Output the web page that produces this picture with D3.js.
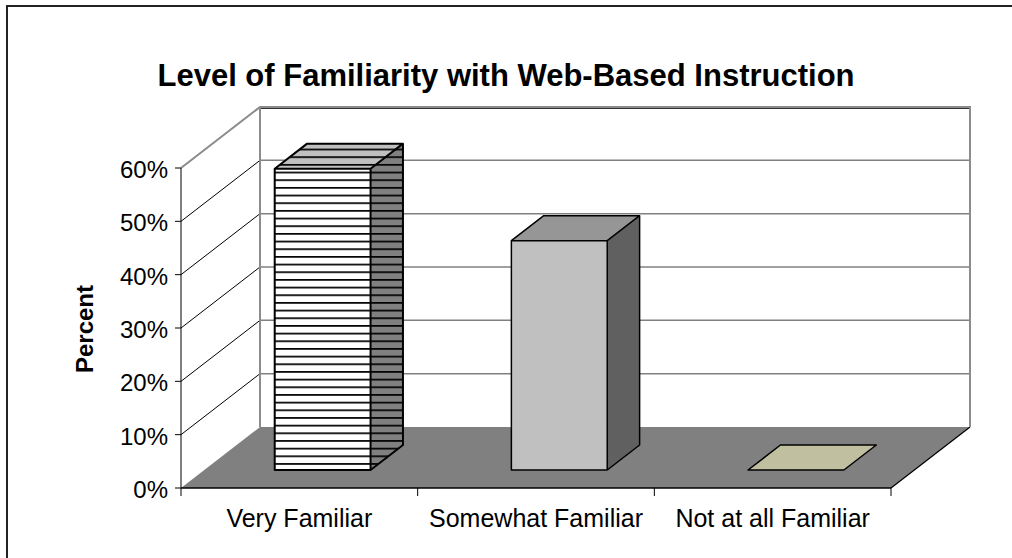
<!DOCTYPE html>
<html>
<head>
    <meta charset="utf-8">
    <title>Level of Familiarity with Web-Based Instruction</title>
    <script src="https://d3js.org/d3.v7.min.js"></script>
    <style>
        body { margin: 0; background: #fff; overflow: hidden; }
        svg { display: block; }
        text { font-family: "Liberation Sans", Arial, sans-serif; fill: #000; }
    </style>
</head>
<body>
    <div id="chart"></div>

    <script>
        // chart data
        const titleText = "Level of Familiarity with Web-Based Instruction";
        const axisTitle = "Percent";
        const categories = ["Very Familiar", "Somewhat Familiar", "Not at all Familiar"];
        const values = [0.565, 0.43, 0];
        const yTicks = [0, 0.1, 0.2, 0.3, 0.4, 0.5, 0.6];

        const W = 1012, H = 558;
        const svg = d3.select("#chart").append("svg")
            .attr("width", W)
            .attr("height", H);

        // depth offset of the back wall
        const DX = 79, DY = -61;
        const barD0 = 0.295, barD1 = 0.705;

        const x = d3.scaleBand()
            .domain(categories)
            .range([181, 891])
            .paddingInner(0.595)
            .paddingOuter(0.2975);
        const y = d3.scaleLinear().domain([0, 0.6]).range([488, 168]);

        // project (screen x, value, depth) -> point
        const P = (px, v, d) => [px + d * DX, y(v) + d * DY];
        const poly = pts => "M" + pts.map(p => p.join(",")).join("L") + "Z";

        // stripe patterns for the first bar
        const defs = svg.append("defs");
        [["stripeW", "#ffffff"], ["stripeL", "#c0c0c0"], ["stripeD", "#808080"]].forEach(([id, bg]) => {
            const p = defs.append("pattern")
                .attr("id", id)
                .attr("patternUnits", "userSpaceOnUse")
                .attr("width", 10).attr("height", 7.67);
            p.append("rect").attr("width", 10).attr("height", 7.67).attr("fill", bg);
            p.append("rect").attr("y", 2.9).attr("width", 10).attr("height", 1.7).attr("fill", "#000");
        });

        // outer frame: only left and top edges are in view
        svg.append("path")
            .attr("d", "M7,560V6H1012")
            .attr("fill", "none").attr("stroke", "#222").attr("stroke-width", 2);

        // title
        svg.append("text")
            .attr("x", 506).attr("y", 86)
            .attr("text-anchor", "middle")
            .style("font-size", "31px").style("font-weight", "bold")
            .text(titleText);

        const x0 = 181, x1 = 891;

        // floor
        svg.append("path")
            .attr("d", poly([P(x0, 0, 0), P(x0, 0, 1), P(x1, 0, 1), P(x1, 0, 0)]))
            .attr("fill", "#808080");
        svg.append("line")
            .attr("x1", x1).attr("y1", y(0))
            .attr("x2", x1 + DX).attr("y2", y(0) + DY)
            .attr("stroke", "#000").attr("stroke-width", 1.3);

        // back wall gridlines
        svg.selectAll(".grid")
            .data(yTicks.filter(t => t > 0 && t < 0.6))
            .enter().append("line")
            .attr("class", "grid")
            .attr("x1", x0 + DX).attr("x2", x1 + DX)
            .attr("y1", d => y(d) + DY).attr("y2", d => y(d) + DY)
            .attr("stroke", "#808080").attr("stroke-width", 1.5);
        svg.append("line")
            .attr("x1", x0 + DX).attr("x2", x1 + DX)
            .attr("y1", y(0.6) + DY + 1.5).attr("y2", y(0.6) + DY + 1.5)
            .attr("stroke", "#333").attr("stroke-width", 1);

        // left wall gridlines
        svg.selectAll(".sgrid")
            .data(yTicks.filter(t => t > 0 && t < 0.6))
            .enter().append("line")
            .attr("class", "sgrid")
            .attr("x1", x0).attr("x2", x0 + DX)
            .attr("y1", d => y(d)).attr("y2", d => y(d) + DY)
            .attr("stroke", "#000").attr("stroke-width", 1);

        // wall outline
        svg.append("path")
            .attr("d", "M" + P(x0, 0.6, 0) + "L" + P(x0, 0.6, 1) + "L" + P(x1, 0.6, 1) + "L" + P(x1, 0, 1)
                + "M" + P(x0, 0.6, 1) + "L" + P(x0, 0, 1))
            .attr("fill", "none").attr("stroke", "#8c8c8c").attr("stroke-width", 2);

        // bars
        const styles = [
            { front: "url(#stripeW)", top: "url(#stripeL)", side: "url(#stripeD)", sw: 2 },
            { front: "#c0c0c0", top: "#969696", side: "#606060", sw: 1.5 },
            { front: "#c0c0a0", top: "#c0c0a0", side: "#c0c0a0", sw: 1.5 }
        ];

        const bars = svg.selectAll(".bar")
            .data(categories.map((c, i) => ({ c, v: values[i], s: styles[i] })))
            .enter().append("g")
            .attr("class", "bar");

        bars.each(function(d) {
            const g = d3.select(this);
            const l = x(d.c), r = x(d.c) + x.bandwidth();
            if (d.v > 0) {
                g.append("path")
                    .attr("d", poly([P(r, 0, barD0), P(r, 0, barD1), P(r, d.v, barD1), P(r, d.v, barD0)]))
                    .attr("fill", d.s.side);
                g.append("path")
                    .attr("d", poly([P(l, 0, barD0), P(r, 0, barD0), P(r, d.v, barD0), P(l, d.v, barD0)]))
                    .attr("fill", d.s.front);
            }
            g.append("path")
                .attr("d", poly([P(l, d.v, barD0), P(r, d.v, barD0), P(r, d.v, barD1), P(l, d.v, barD1)]))
                .attr("fill", d.s.top);
            // outlines
            let outline;
            if (d.v > 0) {
                outline = "M" + P(l, 0, barD0) + "L" + P(r, 0, barD0) + "L" + P(r, 0, barD1) + "L" + P(r, d.v, barD1)
                    + "L" + P(l, d.v, barD1) + "L" + P(l, d.v, barD0) + "Z"
                    + "M" + P(l, d.v, barD0) + "L" + P(r, d.v, barD0) + "L" + P(r, d.v, barD1)
                    + "M" + P(r, d.v, barD0) + "L" + P(r, 0, barD0);
            } else {
                outline = poly([P(l, 0, barD0), P(r, 0, barD0), P(r, 0, barD1), P(l, 0, barD1)]);
            }
            g.append("path")
                .attr("d", outline)
                .attr("fill", "none")
                .attr("stroke", "#000")
                .attr("stroke-width", d.s.sw)
                .attr("stroke-linejoin", "round");
        });

        // value axis
        svg.append("line")
            .attr("x1", x0).attr("x2", x0)
            .attr("y1", y(0.6)).attr("y2", y(0))
            .attr("stroke", "#000");
        svg.selectAll(".ytick")
            .data(yTicks)
            .enter().append("line")
            .attr("x1", x0 - 6).attr("x2", x0)
            .attr("y1", d => y(d)).attr("y2", d => y(d))
            .attr("stroke", "#000");
        svg.selectAll(".ylab")
            .data(yTicks)
            .enter().append("text")
            .attr("x", 168).attr("y", d => y(d) + 10)
            .attr("text-anchor", "end")
            .style("font-size", "24px")
            .text(d => d3.format(".0%")(d));

        svg.append("text")
            .attr("transform", "translate(93,329) rotate(-90)")
            .attr("text-anchor", "middle")
            .style("font-size", "24px").style("font-weight", "bold")
            .text(axisTitle);

        // category axis
        svg.append("line")
            .attr("x1", x0).attr("x2", x1)
            .attr("y1", y(0)).attr("y2", y(0))
            .attr("stroke", "#000").attr("stroke-width", 1.5);
        const step = x.step();
        svg.selectAll(".xtick")
            .data(d3.range(categories.length + 1))
            .enter().append("line")
            .attr("x1", i => x0 + i * step).attr("x2", i => x0 + i * step)
            .attr("y1", y(0)).attr("y2", y(0) + 8)
            .attr("stroke", "#000");
        svg.selectAll(".xlab")
            .data(categories)
            .enter().append("text")
            .attr("x", (d, i) => x0 + (i + 0.5) * step)
            .attr("y", 527)
            .attr("text-anchor", "middle")
            .style("font-size", "25px")
            .text(d => d);
    </script>
</body>
</html>
